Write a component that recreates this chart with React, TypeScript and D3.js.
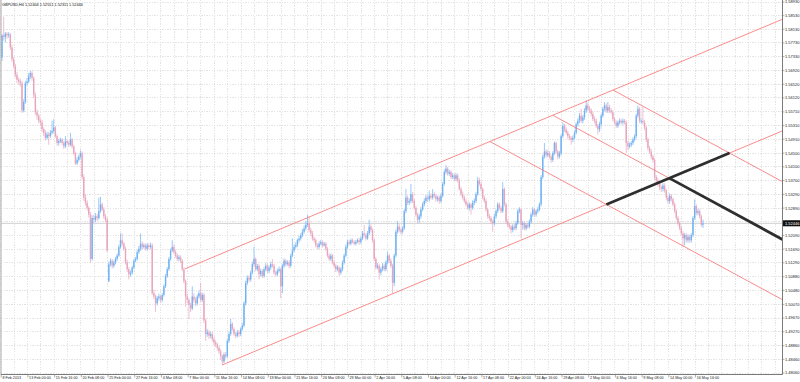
import React from "react";
import * as d3 from "d3";

// ---- DATA (GBPUSD, H4) ----
const title = "GBPUSD,H4  1.52404 1.52551 1.52311 1.52446";
const currentPrice = 1.52446;

// close of every H4 bar, 8 Feb 2013 08:00 .. 17 May 2013 08:00
const closes = [
  1.5795,1.5790,1.5800,1.5795,
  1.5798,1.5760,1.5725,1.5705,1.5680,1.5665,
  1.5660,1.5655,1.5575,1.5600,1.5655,1.5660,
  1.5675,1.5685,1.5670,1.5620,1.5570,1.5560,
  1.5545,1.5540,1.5520,1.5510,1.5495,1.5505,
  1.5500,1.5510,1.5515,1.5525,1.5500,1.5480,
  1.5485,1.5490,1.5480,1.5470,1.5485,1.5480,
  1.5475,1.5490,1.5470,1.5450,1.5420,1.5430,
  1.5440,1.5450,1.5380,1.5320,1.5305,1.5290,
  1.5270,1.5140,1.5260,1.5255,1.5265,1.5260,
  1.5280,1.5300,1.5285,1.5265,1.5255,1.5165,
  1.5125,1.5135,1.5120,1.5130,1.5140,1.5150,
  1.5175,1.5195,1.5185,1.5170,1.5130,1.5110,
  1.5095,1.5100,1.5115,1.5135,1.5140,1.5160,
  1.5170,1.5185,1.5175,1.5180,1.5170,1.5180,
  1.5175,1.5180,1.5040,1.5030,1.5010,1.5025,
  1.5030,1.5020,1.5035,1.5060,1.5090,1.5110,
  1.5140,1.5165,1.5175,1.5160,1.5150,1.5140,
  1.5145,1.5135,1.5110,1.5075,1.5030,1.5020,
  1.5005,1.4995,1.5030,1.5020,1.5010,1.5030,
  1.5040,1.5020,1.5035,1.4960,1.4920,1.4925,
  1.4915,1.4920,1.4905,1.4895,1.4890,1.4880,
  1.4870,1.4855,1.4840,1.4860,1.4855,1.4900,
  1.4920,1.4950,1.4935,1.4920,1.4915,1.4925,
  1.4920,1.4935,1.4945,1.5010,1.5070,1.5085,
  1.5080,1.5100,1.5125,1.5140,1.5110,1.5120,
  1.5095,1.5105,1.5090,1.5110,1.5120,1.5105,
  1.5115,1.5125,1.5120,1.5100,1.5095,1.5105,
  1.5110,1.5060,1.5120,1.5135,1.5125,1.5130,
  1.5120,1.5150,1.5165,1.5175,1.5180,1.5195,
  1.5200,1.5210,1.5220,1.5230,1.5240,1.5245,
  1.5225,1.5215,1.5200,1.5195,1.5180,1.5175,
  1.5185,1.5190,1.5180,1.5185,1.5170,1.5150,
  1.5140,1.5150,1.5130,1.5120,1.5110,1.5115,
  1.5100,1.5110,1.5130,1.5150,1.5175,1.5190,
  1.5185,1.5195,1.5190,1.5185,1.5190,1.5195,
  1.5190,1.5200,1.5215,1.5210,1.5200,1.5215,
  1.5235,1.5225,1.5195,1.5140,1.5115,1.5120,
  1.5100,1.5110,1.5120,1.5110,1.5130,1.5150,
  1.5135,1.5120,1.5070,1.5150,1.5220,1.5235,
  1.5225,1.5220,1.5230,1.5280,1.5320,1.5305,
  1.5310,1.5330,1.5310,1.5290,1.5270,1.5255,
  1.5265,1.5285,1.5300,1.5310,1.5320,1.5315,
  1.5325,1.5320,1.5330,1.5325,1.5315,1.5320,
  1.5310,1.5325,1.5360,1.5395,1.5405,1.5390,
  1.5395,1.5380,1.5385,1.5375,1.5385,1.5370,
  1.5345,1.5330,1.5320,1.5310,1.5300,1.5290,
  1.5300,1.5290,1.5305,1.5310,1.5330,1.5370,
  1.5360,1.5345,1.5320,1.5310,1.5285,1.5265,
  1.5260,1.5250,1.5245,1.5265,1.5280,1.5300,
  1.5290,1.5280,1.5345,1.5300,1.5250,1.5240,
  1.5235,1.5225,1.5235,1.5230,1.5245,1.5280,
  1.5285,1.5240,1.5245,1.5230,1.5240,1.5235,
  1.5250,1.5270,1.5285,1.5270,1.5280,1.5285,
  1.5300,1.5380,1.5440,1.5455,1.5445,1.5450,
  1.5440,1.5430,1.5450,1.5480,1.5455,1.5440,
  1.5450,1.5500,1.5530,1.5520,1.5510,1.5500,
  1.5495,1.5490,1.5495,1.5510,1.5535,1.5545,
  1.5560,1.5545,1.5555,1.5575,1.5590,1.5580,
  1.5575,1.5565,1.5550,1.5545,1.5530,1.5520,
  1.5535,1.5560,1.5580,1.5590,1.5575,1.5585,
  1.5575,1.5570,1.5550,1.5540,1.5530,1.5540,
  1.5545,1.5540,1.5545,1.5540,1.5480,1.5470,
  1.5475,1.5480,1.5490,1.5500,1.5560,1.5580,
  1.5545,1.5545,1.5540,1.5525,1.5490,1.5465,
  1.5455,1.5440,1.5430,1.5380,1.5370,1.5360,
  1.5350,1.5345,1.5355,1.5340,1.5320,1.5310,
  1.5325,1.5315,1.5300,1.5280,1.5260,1.5245,
  1.5230,1.5215,1.5200,1.5210,1.5195,1.5205,
  1.5195,1.5210,1.5260,1.5295,1.5275,1.5280,
  1.5265,1.52404,1.52446,
];

const highs = [
  1.5800,1.5850,1.5805,1.5805,
  1.5805,1.5802,1.5768,1.5732,1.5712,1.5688,
  1.5672,1.5668,1.5662,1.5608,1.5662,1.5670,
  1.5685,1.5692,1.5690,1.5675,1.5628,1.5578,
  1.5565,1.5552,1.5548,1.5526,1.5518,1.5512,
  1.5512,1.5518,1.5545,1.5550,1.5530,1.5505,
  1.5492,1.5496,1.5494,1.5486,1.5500,1.5490,
  1.5486,1.5510,1.5495,1.5475,1.5455,1.5438,
  1.5446,1.5458,1.5455,1.5388,1.5330,1.5312,
  1.5295,1.5278,1.5268,1.5270,1.5275,1.5272,
  1.5320,1.5322,1.5305,1.5292,1.5272,1.5262,
  1.5132,1.5142,1.5140,1.5136,1.5146,1.5156,
  1.5182,1.5215,1.5215,1.5190,1.5176,1.5138,
  1.5116,1.5106,1.5120,1.5140,1.5146,1.5166,
  1.5178,1.5215,1.5192,1.5186,1.5186,1.5186,
  1.5186,1.5188,1.5186,1.5050,1.5036,1.5032,
  1.5038,1.5034,1.5040,1.5066,1.5096,1.5116,
  1.5146,1.5170,1.5195,1.5182,1.5166,1.5156,
  1.5152,1.5150,1.5140,1.5116,1.5080,1.5038,
  1.5026,1.5012,1.5060,1.5040,1.5028,1.5036,
  1.5048,1.5070,1.5042,1.5040,1.4966,1.4935,
  1.4932,1.4928,1.4928,1.4912,1.4902,1.4896,
  1.4886,1.4876,1.4860,1.4866,1.4868,1.4906,
  1.4928,1.4965,1.4955,1.4940,1.4926,1.4932,
  1.4932,1.4940,1.4952,1.5016,1.5076,1.5092,
  1.5092,1.5106,1.5132,1.5175,1.5145,1.5126,
  1.5126,1.5112,1.5110,1.5116,1.5128,1.5126,
  1.5122,1.5132,1.5140,1.5126,1.5106,1.5112,
  1.5118,1.5115,1.5126,1.5142,1.5140,1.5136,
  1.5136,1.5156,1.5200,1.5182,1.5188,1.5200,
  1.5208,1.5216,1.5228,1.5238,1.5250,1.5270,
  1.5265,1.5232,1.5222,1.5206,1.5200,1.5186,
  1.5192,1.5196,1.5195,1.5190,1.5190,1.5175,
  1.5156,1.5156,1.5155,1.5136,1.5126,1.5122,
  1.5120,1.5116,1.5136,1.5156,1.5182,1.5196,
  1.5196,1.5200,1.5200,1.5194,1.5196,1.5200,
  1.5202,1.5206,1.5222,1.5240,1.5216,1.5222,
  1.5255,1.5242,1.5230,1.5200,1.5146,1.5128,
  1.5126,1.5116,1.5128,1.5126,1.5136,1.5162,
  1.5156,1.5142,1.5126,1.5156,1.5226,1.5250,
  1.5242,1.5232,1.5236,1.5286,1.5345,1.5326,
  1.5318,1.5360,1.5336,1.5316,1.5296,1.5276,
  1.5272,1.5292,1.5306,1.5318,1.5328,1.5326,
  1.5340,1.5332,1.5345,1.5336,1.5330,1.5326,
  1.5326,1.5332,1.5366,1.5402,1.5415,1.5410,
  1.5402,1.5400,1.5392,1.5390,1.5392,1.5390,
  1.5376,1.5352,1.5338,1.5326,1.5316,1.5306,
  1.5306,1.5304,1.5312,1.5318,1.5336,1.5380,
  1.5378,1.5366,1.5350,1.5326,1.5316,1.5290,
  1.5272,1.5266,1.5256,1.5272,1.5286,1.5306,
  1.5306,1.5296,1.5365,1.5350,1.5306,1.5256,
  1.5246,1.5240,1.5242,1.5242,1.5252,1.5286,
  1.5292,1.5290,1.5252,1.5250,1.5246,1.5246,
  1.5256,1.5276,1.5292,1.5290,1.5286,1.5292,
  1.5306,1.5386,1.5446,1.5480,1.5462,1.5458,
  1.5456,1.5446,1.5456,1.5485,1.5484,1.5460,
  1.5456,1.5506,1.5540,1.5536,1.5526,1.5516,
  1.5506,1.5500,1.5502,1.5516,1.5540,1.5552,
  1.5568,1.5580,1.5562,1.5582,1.5605,1.5598,
  1.5588,1.5582,1.5572,1.5558,1.5552,1.5536,
  1.5542,1.5566,1.5586,1.5600,1.5596,1.5600,
  1.5592,1.5582,1.5576,1.5556,1.5546,1.5546,
  1.5552,1.5550,1.5552,1.5550,1.5546,1.5486,
  1.5482,1.5486,1.5496,1.5506,1.5566,1.5590,
  1.5585,1.5552,1.5585,1.5548,1.5530,1.5496,
  1.5472,1.5462,1.5446,1.5436,1.5386,1.5378,
  1.5366,1.5358,1.5362,1.5362,1.5346,1.5326,
  1.5332,1.5330,1.5320,1.5306,1.5286,1.5266,
  1.5250,1.5236,1.5222,1.5216,1.5216,1.5212,
  1.5212,1.5216,1.5266,1.5315,1.5300,1.5288,
  1.5286,1.5270,1.52551,
];

const lows = [
  1.5720,1.5780,1.5775,1.5785,
  1.5788,1.5752,1.5718,1.5698,1.5672,1.5655,
  1.5650,1.5645,1.5568,1.5570,1.5595,1.5648,
  1.5655,1.5668,1.5662,1.5612,1.5562,1.5548,
  1.5538,1.5530,1.5512,1.5500,1.5488,1.5490,
  1.5475,1.5495,1.5505,1.5508,1.5495,1.5472,
  1.5472,1.5480,1.5474,1.5462,1.5465,1.5474,
  1.5468,1.5470,1.5464,1.5444,1.5415,1.5416,
  1.5425,1.5434,1.5372,1.5310,1.5296,1.5282,
  1.5262,1.5130,1.5135,1.5245,1.5248,1.5252,
  1.5255,1.5275,1.5280,1.5258,1.5248,1.5160,
  1.5072,1.5118,1.5112,1.5114,1.5124,1.5134,
  1.5146,1.5170,1.5178,1.5164,1.5124,1.5102,
  1.5080,1.5088,1.5094,1.5110,1.5130,1.5136,
  1.5155,1.5164,1.5168,1.5170,1.5164,1.5165,
  1.5168,1.5170,1.5035,1.5022,1.4985,1.5004,
  1.5018,1.5012,1.5014,1.5030,1.5055,1.5085,
  1.5105,1.5135,1.5160,1.5154,1.5144,1.5134,
  1.5134,1.5128,1.5104,1.5068,1.5000,1.5010,
  1.4965,1.4985,1.4990,1.5012,1.5002,1.5004,
  1.5024,1.5014,1.5014,1.4952,1.4900,1.4912,
  1.4906,1.4908,1.4898,1.4886,1.4882,1.4872,
  1.4862,1.4846,1.4831,1.4835,1.4848,1.4850,
  1.4894,1.4915,1.4930,1.4914,1.4908,1.4910,
  1.4912,1.4914,1.4930,1.4940,1.5004,1.5064,
  1.5072,1.5074,1.5095,1.5118,1.5104,1.5104,
  1.5080,1.5088,1.5084,1.5085,1.5104,1.5098,
  1.5098,1.5108,1.5114,1.5094,1.5088,1.5090,
  1.5100,1.5025,1.5040,1.5114,1.5118,1.5120,
  1.5112,1.5115,1.5145,1.5160,1.5170,1.5175,
  1.5188,1.5194,1.5204,1.5214,1.5224,1.5234,
  1.5218,1.5208,1.5194,1.5188,1.5174,1.5168,
  1.5170,1.5180,1.5174,1.5176,1.5164,1.5144,
  1.5134,1.5134,1.5124,1.5114,1.5102,1.5104,
  1.5090,1.5094,1.5104,1.5124,1.5145,1.5170,
  1.5180,1.5180,1.5186,1.5180,1.5180,1.5186,
  1.5182,1.5184,1.5195,1.5204,1.5194,1.5196,
  1.5210,1.5218,1.5188,1.5134,1.5108,1.5110,
  1.5080,1.5092,1.5104,1.5104,1.5104,1.5124,
  1.5128,1.5114,1.5040,1.5060,1.5144,1.5214,
  1.5218,1.5212,1.5214,1.5225,1.5274,1.5298,
  1.5298,1.5304,1.5304,1.5284,1.5264,1.5245,
  1.5245,1.5258,1.5280,1.5294,1.5304,1.5308,
  1.5308,1.5314,1.5314,1.5318,1.5308,1.5308,
  1.5302,1.5304,1.5320,1.5355,1.5388,1.5384,
  1.5384,1.5374,1.5374,1.5368,1.5368,1.5364,
  1.5340,1.5324,1.5314,1.5304,1.5294,1.5284,
  1.5282,1.5270,1.5284,1.5298,1.5304,1.5325,
  1.5354,1.5338,1.5314,1.5304,1.5278,1.5258,
  1.5252,1.5242,1.5220,1.5238,1.5258,1.5274,
  1.5284,1.5274,1.5275,1.5294,1.5244,1.5232,
  1.5228,1.5215,1.5218,1.5224,1.5224,1.5240,
  1.5274,1.5200,1.5226,1.5224,1.5224,1.5228,
  1.5230,1.5244,1.5264,1.5264,1.5264,1.5274,
  1.5280,1.5294,1.5374,1.5434,1.5438,1.5438,
  1.5434,1.5422,1.5424,1.5444,1.5448,1.5432,
  1.5434,1.5444,1.5494,1.5512,1.5504,1.5492,
  1.5488,1.5475,1.5482,1.5490,1.5505,1.5528,
  1.5538,1.5538,1.5538,1.5548,1.5568,1.5572,
  1.5568,1.5558,1.5544,1.5538,1.5524,1.5505,
  1.5512,1.5528,1.5554,1.5574,1.5568,1.5568,
  1.5568,1.5564,1.5544,1.5534,1.5524,1.5524,
  1.5534,1.5534,1.5534,1.5534,1.5450,1.5460,
  1.5464,1.5468,1.5474,1.5484,1.5494,1.5554,
  1.5538,1.5536,1.5534,1.5518,1.5482,1.5458,
  1.5448,1.5432,1.5422,1.5372,1.5362,1.5352,
  1.5342,1.5336,1.5338,1.5334,1.5312,1.5302,
  1.5302,1.5308,1.5294,1.5274,1.5254,1.5238,
  1.5224,1.5208,1.5175,1.5180,1.5188,1.5188,
  1.5188,1.5188,1.5204,1.5254,1.5268,1.5268,
  1.5258,1.5234,1.52311,
];

// bars whose open differs from the previous close: [bar index, open]
const gapOpens: [number, number][] = [
  [0, 1.5730],
  [64, 1.5075],
];

// time axis labels, one every 16 bars
const timeLabels = [
  "8 Feb 2013","13 Feb 00:00","15 Feb 16:00","20 Feb 08:00","25 Feb 00:00","27 Feb 16:00",
  "4 Mar 08:00","7 Mar 00:00","11 Mar 16:00","14 Mar 08:00","19 Mar 00:00","21 Mar 16:00",
  "26 Mar 08:00","29 Mar 00:00","2 Apr 16:00","5 Apr 08:00","10 Apr 00:00","12 Apr 16:00",
  "17 Apr 08:00","22 Apr 00:00","24 Apr 16:00","29 Apr 08:00","2 May 00:00","6 May 16:00",
  "9 May 08:00","14 May 00:00","16 May 16:00",
];

// price axis labels
const priceLabels = [
  1.58930,1.58530,1.58130,1.57730,1.57330,1.56920,1.56520,1.56120,1.55710,1.55310,
  1.54910,1.54500,1.54100,1.53700,1.53290,1.52890,1.52490,1.52090,1.51690,1.51290,
  1.50880,1.50480,1.50070,1.49670,1.49270,1.48860,1.48460,1.48060,
];

// drawn objects: [bar1, price1, bar2, price2]
const redLines: [number, number, number, number][] = [
  [109.6, 1.5111, 467.6, 1.58424],   // channel upper
  [131.8, 1.48293, 467.6, 1.55153],  // channel lower
  [292.4, 1.5484, 467.6, 1.50208],   // descending 1
  [330.1, 1.5561, 467.6, 1.51974],   // descending 2
  [366.1, 1.5635, 467.6, 1.53666],   // descending 3
];
const blackLines: [number, number, number, number][] = [
  [362.1, 1.52998, 435.9, 1.54506],
  [399.8, 1.5377, 467.6, 1.51974],
];

// ---- LAYOUT ----
const W = 800, H = 382;
const plotLeft = 1, plotRight = 782.5, plotTop = 0, plotBottom = 374.5;
const BULL = "#6FB2F3";
const BEAR = "#E8A4BD";
const FONT = "'Liberation Sans', Arial, sans-serif";

export default function App() {
  const n = closes.length;
  const x = d3.scaleLinear().domain([0, 420]).range([2, 703]);
  const y = d3.scaleLinear().domain([1.4806, 1.5893]).range([373, 2]);

  const gapMap = new Map(gapOpens);
  const opens = closes.map((c, i) => (gapMap.has(i) ? (gapMap.get(i) as number) : closes[i - 1]));

  const gridXs: number[] = [];
  for (let k = 0; ; k++) {
    const gx = x(8 * k - 0.78);
    if (gx > plotRight - 1) break;
    gridXs.push(gx);
  }

  const line = d3.line<[number, number]>().x((d) => x(d[0])).y((d) => y(d[1]));

  return (
    <svg
      width={W}
      height={H}
      style={{ position: "absolute", left: 0, top: 0, display: "block", background: "#fff" }}
      fontFamily={FONT}
    >
      <rect x={0} y={0} width={W} height={H} fill="#fff" />
      {/* grid */}
      <g stroke="#d9d9d9" strokeWidth={0.7} strokeDasharray="1.3,1.3" shapeRendering="crispEdges">
        {gridXs.map((gx, k) => (
          <line key={"gx" + k} x1={gx} x2={gx} y1={plotTop} y2={plotBottom} />
        ))}
        {priceLabels.map((p, k) => (
          <line key={"gy" + k} x1={plotLeft} x2={plotRight} y1={y(p)} y2={y(p)} />
        ))}
      </g>

      {/* current price line */}
      <line x1={plotLeft} x2={plotRight} y1={y(currentPrice)} y2={y(currentPrice)} stroke="#cfcfcf" strokeWidth={1} />

      {/* candles */}
      <g>
        {closes.slice(0, n).map((c, i) => {
          const o = opens[i];
          const h = Math.max(highs[i], o, c);
          const l = Math.min(lows[i], o, c);
          const col = c >= o ? BULL : BEAR;
          const cx = x(i);
          const yTop = y(Math.max(o, c));
          const yBot = y(Math.min(o, c));
          return (
            <g key={i}>
              <line x1={cx} x2={cx} y1={y(h)} y2={y(l)} stroke={col} strokeWidth={0.7} />
              <rect x={cx - 0.7} y={yTop} width={1.4} height={Math.max(0.8, yBot - yTop)} fill={col} />
            </g>
          );
        })}
      </g>

      {/* drawn lines */}
      <g stroke="#F77F7F" strokeWidth={0.9} fill="none">
        {redLines.map((d, k) => (
          <path key={"r" + k} d={line([[d[0], d[1]], [d[2], d[3]]]) as string} />
        ))}
      </g>
      <g stroke="#2E2E2E" strokeWidth={2.8} fill="none" strokeLinecap="butt">
        {blackLines.map((d, k) => (
          <path key={"b" + k} d={line([[d[0], d[1]], [d[2], d[3]]]) as string} />
        ))}
      </g>

      {/* frame */}
      <line x1={plotLeft} x2={plotLeft} y1={0} y2={plotBottom} stroke="#a9a9a9" strokeWidth={1} />
      <line x1={plotRight} x2={plotRight} y1={0} y2={plotBottom} stroke="#7a7a7a" strokeWidth={1} />
      <line x1={plotLeft} x2={plotRight} y1={plotBottom} y2={plotBottom} stroke="#7a7a7a" strokeWidth={1} />

      {/* price axis */}
      <g fontSize={4} fill="#222">
        {priceLabels.map((p, k) => (
          <g key={"pl" + k}>
            <line x1={plotRight} x2={plotRight + 2} y1={y(p)} y2={y(p)} stroke="#7a7a7a" strokeWidth={0.6} />
            <text x={plotRight + 2.5} y={y(p) + 1.4}>{p.toFixed(5)}</text>
          </g>
        ))}
      </g>
      <rect x={plotRight + 0.5} y={y(currentPrice) - 3} width={W - plotRight} height={6} fill="#111" />
      <text x={plotRight + 2.5} y={y(currentPrice) + 1.4} fontSize={4} fill="#fff">
        {currentPrice.toFixed(5)}
      </text>

      {/* time axis */}
      <g fontSize={3.7} fill="#222">
        {timeLabels.map((t, k) => {
          const tx = x(16 * k) - 0.8;
          return (
            <g key={"tl" + k}>
              <line x1={tx} x2={tx} y1={plotBottom} y2={plotBottom + 3} stroke="#7a7a7a" strokeWidth={0.6} />
              <text x={tx + 1.2} y={plotBottom + 4.8}>{t}</text>
            </g>
          );
        })}
      </g>

      {/* title */}
      <text x={2} y={5.6} fontSize={3.8} fill="#111">{title}</text>
    </svg>
  );
}
